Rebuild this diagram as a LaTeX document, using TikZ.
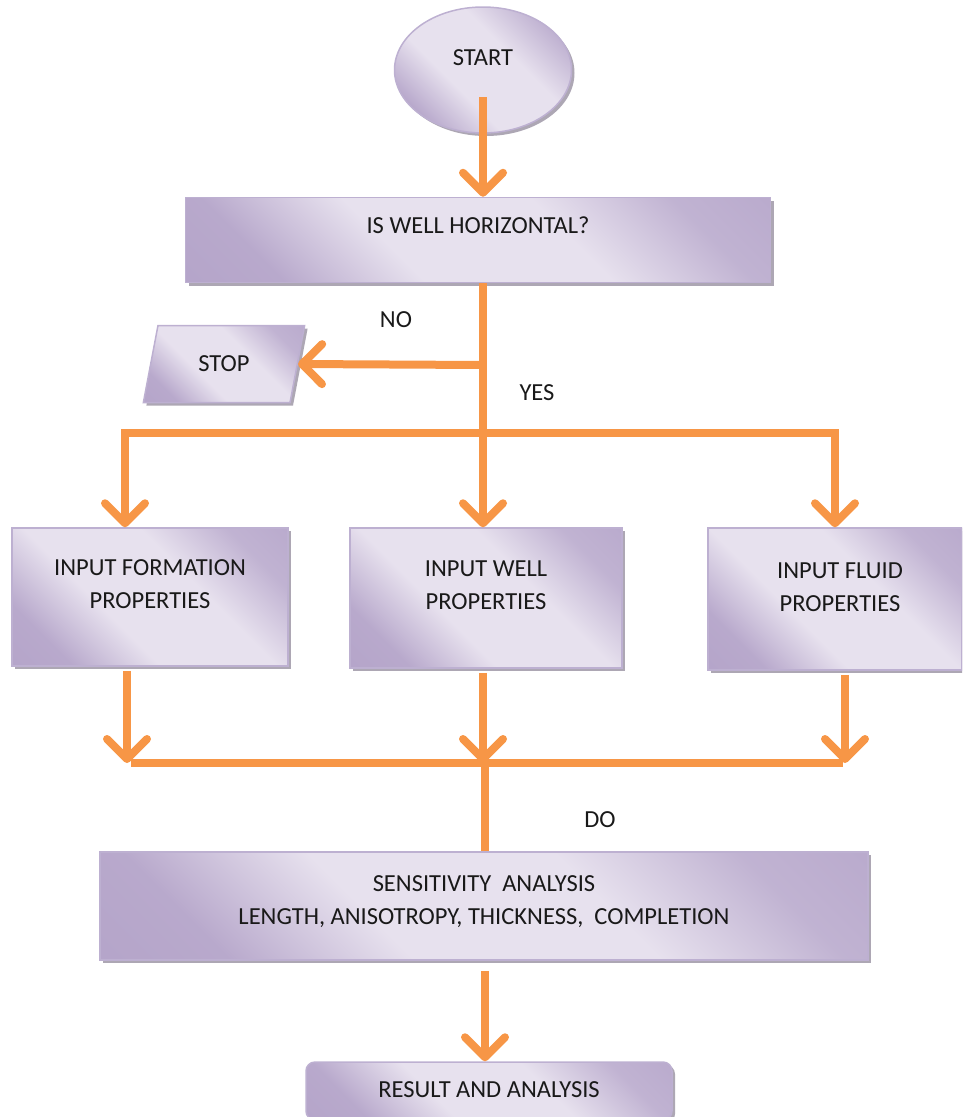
\documentclass[tikz,border=0pt]{standalone}
\usepackage{fontspec}
\setmainfont{Carlito}
\usetikzlibrary{arrows.meta,shapes.geometric,shadows}
\definecolor{flowline}{HTML}{F79646}
\definecolor{lilaclight}{HTML}{E7E1EE}
\definecolor{lilacdark}{HTML}{B09FC6}
\definecolor{lilacedge}{HTML}{BDB0D1}
\pgfdeclarehorizontalshading{lilacglow}{100bp}{color(0bp)=(lilacdark); color(25bp)=(lilacdark!85!lilaclight); color(40bp)=(lilaclight); color(60bp)=(lilaclight); color(75bp)=(lilacdark!70!lilaclight); color(100bp)=(lilacdark)}
\begin{document}
\begin{tikzpicture}[x=1pt,y=-1pt,font=\fontsize{24.5}{33}\selectfont, text=black!90, line join=miter]
	\tikzset{box/.style={draw=lilacedge, line width=1.5pt, shading=lilacglow, shading angle=45,
			drop shadow={shadow xshift=3pt, shadow yshift=-3pt, fill=lilacdark!60!black, opacity=.55},
			inner sep=0pt, align=center},
		flow/.style={draw=flowline, line width=8pt, -{Straight Barb[length=20pt,width=40pt,round]}},
		trunk/.style={draw=flowline, line width=8pt}}
	\clip (0,0) rectangle (962,1117);
	% boxes
	\node[box, ellipse, minimum width=177pt, minimum height=126pt,
	label={[yshift=12pt]center:START}] (start) at (483,70) {};
	\node[box, minimum width=585pt, minimum height=85pt,
	label={[yshift=15pt]center:IS WELL HORIZONTAL?}] (well) at (478,240) {};
	\node[box, trapezium, trapezium left angle=76, trapezium right angle=104, trapezium stretches=true,
	inner sep=6pt, minimum width=162pt, minimum height=77pt] (stop) at (224,364) {STOP};
	\node[box, minimum width=276pt, minimum height=138pt,
	label={[yshift=13pt,align=center]center:INPUT FORMATION\\PROPERTIES}] (form) at (150,597) {};
	\node[box, minimum width=272pt, minimum height=140pt,
	label={[yshift=13pt,align=center]center:INPUT WELL\\PROPERTIES}] (mid) at (486,598) {};
	\node[box, minimum width=254pt, minimum height=142pt,
	label={[xshift=5pt,yshift=12pt,align=center]center:INPUT FLUID\\PROPERTIES}] (fluid) at (835,599) {};
	\node[box, minimum width=768pt, minimum height=108pt,
	label={[yshift=4pt,align=center]center:SENSITIVITY~ ANALYSIS\\LENGTH, ANISOTROPY, THICKNESS,~ COMPLETION}] (sens) at (484,906) {};
	\node[box, rounded corners=9pt, minimum width=366pt, minimum height=58pt,
	label={[yshift=1pt]center:RESULT AND ANALYSIS}] (result) at (489,1091) {};
	% labels
	\node (no) at (396,320) {NO};
	\node (yes) at (537,393) {YES};
	\node (do) at (600,820) {DO};
	% joints
	\coordinate (nojoin) at (483,365);
	\coordinate (split) at (483,433);
	\coordinate (lsplit) at (125,433);
	\coordinate (rsplit) at (835,433);
	\coordinate (ljoin) at (127,763);
	\coordinate (mjoin) at (485,763);
	\coordinate (rjoin) at (845,763);
	% connectors
	\draw[flow] ([yshift=-27pt]start.center) -- (start.center |- well.north);
	\draw[flow] (well.south -| split) -- (split |- mid.north);
	\draw[flow] (nojoin) -- (stop.east);
	\draw[flow, {Straight Barb[length=20pt,width=40pt,round]}-{Straight Barb[length=20pt,width=40pt,round]}]
	(lsplit |- form.north) -- (lsplit) -- (rsplit) -- (rsplit |- fluid.north);
	\draw[flow] ([yshift=-4pt]form.south -| ljoin) -- (ljoin);
	\draw[flow] ([yshift=-4pt]mid.south -| split) -- (split |- mjoin);
	\draw[flow] ([yshift=-4pt]fluid.south -| rjoin) -- (rjoin);
	\draw[trunk] ([xshift=4pt]ljoin) -- ([xshift=-2pt]rjoin);
	\draw[trunk] (mjoin) -- (mjoin |- sens.north);
	\draw[flow] ([yshift=-10pt]sens.south -| mjoin) -- (mjoin |- result.north);
\end{tikzpicture}
\end{document}
